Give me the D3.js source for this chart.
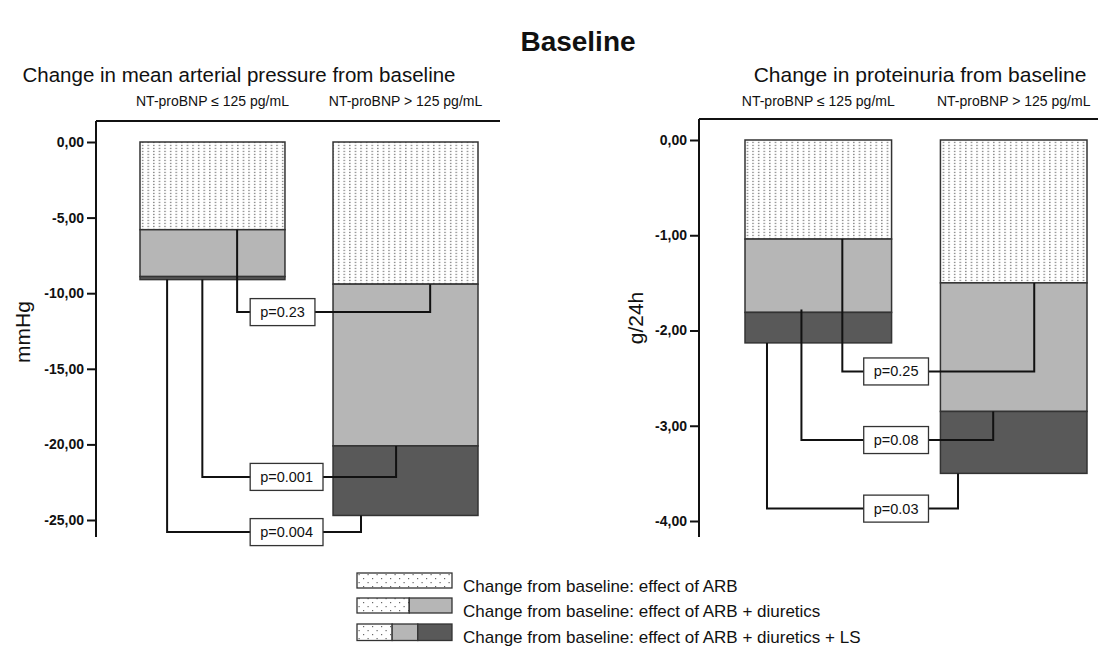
<!DOCTYPE html>
<html><head><meta charset="utf-8">
<script src="https://cdn.jsdelivr.net/npm/d3@7/dist/d3.min.js"></script>
<style>
body{margin:0;background:#fff;}
text{font-family:"Liberation Sans",Arial,Helvetica,sans-serif;fill:#111;}
</style></head>
<body><svg id="chart" width="1098" height="653"></svg>
<script>
// ---- data ----
const groups = ["NT-proBNP \u2264 125 pg/mL", "NT-proBNP > 125 pg/mL"];
// Mean arterial pressure (mmHg): cumulative change from baseline
const mapARB  = [-5.8, -9.4];
const mapDiur = [-8.9, -20.1];
const mapLS   = [-9.1, -24.7];
const mapTicks = [0, -5, -10, -15, -20, -25];
const mapPLabels = ["p=0.23", "p=0.001", "p=0.004"];
const mapPLevels = [-11.25, -22.15, -25.8];
// Proteinuria (g/24h)
const protARB  = [-1.04, -1.50];
const protDiur = [-1.81, -2.85];
const protLS   = [-2.13, -3.50];
const protTicks = [0, -1, -2, -3, -4];
const protPLabels = ["p=0.25", "p=0.08", "p=0.03"];
const protPLevels = [-2.43, -3.15, -3.87];
const legendLabels = [
  "Change from baseline: effect of ARB",
  "Change from baseline: effect of ARB + diuretics",
  "Change from baseline: effect of ARB + diuretics + LS"
];
const mainTitle = "Baseline";

// ---- styles ----
const GREY = "#b6b6b6", DARK = "#595959", EDGE = "#333";
const svg = d3.select("#chart");
const defs = svg.append("defs");
const pat = defs.append("pattern").attr("id","dots").attr("patternUnits","userSpaceOnUse")
  .attr("width",5.6).attr("height",3);
pat.append("rect").attr("width",5.6).attr("height",3).attr("fill","#fff");
pat.append("rect").attr("x",2).attr("y",0.8).attr("width",1.3).attr("height",1.3).attr("fill","#777");
const pat2 = defs.append("pattern").attr("id","ldots").attr("patternUnits","userSpaceOnUse")
  .attr("width",9).attr("height",8);
pat2.append("rect").attr("width",9).attr("height",8).attr("fill","#fff");
pat2.append("rect").attr("x",3).attr("y",2).attr("width",1.2).attr("height",1.2).attr("fill","#666");
pat2.append("rect").attr("x",7.5).attr("y",6).attr("width",1.2).attr("height",1.2).attr("fill","#666");

svg.append("text").attr("x",578).attr("y",51).attr("text-anchor","middle")
  .style("font-size","28px").style("font-weight","bold").text(mainTitle);

function panel(cfg){
  const g = svg.append("g");
  const y = d3.scaleLinear().domain(cfg.domain).range(cfg.yRange);
  const x = d3.scaleBand().domain(groups).range(cfg.xRange).paddingInner(cfg.pad).paddingOuter(0);
  // title
  g.append("text").attr("x",cfg.titleX).attr("y",82).attr("text-anchor","middle")
    .style("font-size",cfg.titleSize).text(cfg.title);
  // group labels
  g.selectAll(".gl").data(groups).join("text")
    .attr("x",d=>x(d)+x.bandwidth()/2).attr("y",106).attr("text-anchor","middle")
    .style("font-size","14px").text(d=>d);
  // top line
  g.append("line").attr("x1",cfg.axisX).attr("x2",cfg.topEnd).attr("y1",cfg.topY).attr("y2",cfg.topY)
    .attr("stroke","#111").attr("stroke-width",2);
  // axis
  const ax = g.append("g").attr("transform",`translate(${cfg.axisX},0)`)
    .call(d3.axisLeft(y).tickValues(cfg.ticks).tickSize(9).tickPadding(3)
      .tickFormat(d=>d3.format(".2f")(d).replace("\u2212","-").replace(".",",")));
  ax.select(".domain").attr("d",`M0,${cfg.topY}V${cfg.axisBottom}`).attr("stroke","#111").attr("stroke-width",2);
  ax.selectAll(".tick line").attr("stroke","#111").attr("stroke-width",2);
  ax.selectAll(".tick text").style("font-size","14px").style("font-weight","bold")
    .style("font-family","'Liberation Sans',Arial,sans-serif").attr("fill","#111");
  // y label
  g.append("text").attr("transform",`translate(${cfg.ylabX},${cfg.ylabY}) rotate(-90)`)
    .attr("text-anchor","middle").style("font-size","21px").text(cfg.ylab);
  // bars
  const segs = [];
  groups.forEach((grp,i)=>{
    segs.push({grp, a:0, b:cfg.arb[i], fill:"url(#dots)"});
    segs.push({grp, a:cfg.arb[i], b:cfg.diur[i], fill:GREY});
    segs.push({grp, a:cfg.diur[i], b:cfg.ls[i], fill:DARK});
  });
  g.selectAll(".seg").data(segs).join("rect")
    .attr("x",d=>x(d.grp)).attr("width",x.bandwidth())
    .attr("y",d=>y(d.a)).attr("height",d=>y(d.b)-y(d.a))
    .attr("fill",d=>d.fill).attr("stroke",EDGE).attr("stroke-width",1.5);
  // brackets
  const b1 = groups[0], b2 = groups[1];
  const starts = [cfg.arb[0], cfg.bStart1, cfg.ls[0]];
  const ends = [cfg.arb[1], cfg.diur[1], cfg.ls[1]];
  cfg.pLabels.forEach((lab,k)=>{
    const x1 = x(b1) + cfg.f1[k]*x.bandwidth();
    const x2 = x(b2) + cfg.f2[k]*x.bandwidth();
    const yl = y(cfg.pLevels[k]);
    g.append("path").attr("d",`M${x1},${y(starts[k])}V${yl}H${x2}V${y(ends[k])}`)
      .attr("fill","none").attr("stroke","#111").attr("stroke-width",2);
    const bx = x(b1) + cfg.boxF*x.bandwidth();
    const r = g.append("rect").attr("y",yl-13.5).attr("height",27)
      .attr("fill","#fff").attr("stroke","#333").attr("stroke-width",1.3);
    const t = g.append("text").attr("y",yl+5).attr("text-anchor","middle").style("font-size","14.5px").text(lab);
    const w = t.node().getComputedTextLength()+20;
    r.attr("x",bx).attr("width",w);
    t.attr("x",bx+w/2);
  });
}

panel({title:"Change in mean arterial pressure from baseline", titleX:239, titleSize:"20.5px",
  domain:[0,-25], yRange:[142,520], xRange:[140,478], pad:0.249,
  axisX:96, topY:121, topEnd:500, axisBottom:537, ticks:mapTicks,
  ylab:"mmHg", ylabX:30, ylabY:332,
  arb:mapARB, diur:mapDiur, ls:mapLS, bStart1:mapLS[0],
  pLabels:mapPLabels, pLevels:mapPLevels,
  f1:[0.67,0.43,0.187], f2:[0.67,0.435,0.193], boxF:0.76});

panel({title:"Change in proteinuria from baseline", titleX:920, titleSize:"21px",
  domain:[0,-4], yRange:[140,521], xRange:[745,1087], pad:0.25,
  axisX:699, topY:119, topEnd:1098, axisBottom:537, ticks:protTicks,
  ylab:"g/24h", ylabX:643, ylabY:318,
  arb:protARB, diur:protDiur, ls:protLS, bStart1:-1.78,
  pLabels:protPLabels, pLevels:protPLevels,
  f1:[0.664,0.385,0.15], f2:[0.64,0.36,0.12], boxF:0.81});

// legend
const lg = svg.append("g");
const lx = 357, lw = 95, lh = 15;
const rows = [
  [{f:"url(#ldots)", a:0, b:1}],
  [{f:"url(#ldots)", a:0, b:0.55},{f:GREY,a:0.55,b:1}],
  [{f:"url(#ldots)", a:0, b:0.37},{f:GREY,a:0.37,b:0.64},{f:DARK,a:0.64,b:1}]
];
const ly = [573, 598, 624];
rows.forEach((r,i)=>{
  r.forEach(s=>{
    lg.append("rect").attr("x",lx+s.a*lw).attr("y",ly[i]).attr("width",(s.b-s.a)*lw).attr("height",lh+ (i==2?1.5:0))
      .attr("fill",s.f).attr("stroke","#333").attr("stroke-width",1.3);
  });
  lg.append("text").attr("x",463).attr("y",ly[i]+lh+4).style("font-size","17px").text(legendLabels[i]);
});
</script></body></html>
